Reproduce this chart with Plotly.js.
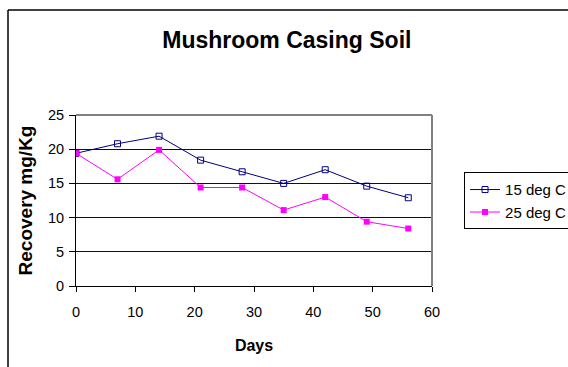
<!DOCTYPE html>
<html>
<head>
<meta charset="utf-8">
<script src="https://cdn.plot.ly/plotly-3.0.1.min.js"></script>
<style>html,body{margin:0;padding:0;background:#fff;}#chart{width:568px;height:367px;}</style>
</head>
<body>
<div id="chart"></div>
<script>
var days = [0, 7, 14, 21, 28, 35, 42, 49, 56];
var series15 = [19.4, 20.8, 21.9, 18.4, 16.7, 15.0, 17.0, 14.6, 12.9];
var series25 = [19.4, 15.6, 19.9, 14.4, 14.4, 11.1, 13.0, 9.4, 8.4];
var seriesNames = ["15 deg C", "25 deg C"];
var xTicks = [0, 10, 20, 30, 40, 50, 60];
var yTicks = [0, 5, 10, 15, 20, 25];

var traces = [
  {x: days, y: series15, name: seriesNames[0], mode: 'lines+markers', type: 'scatter',
   line: {color: '#000080', width: 1},
   marker: {symbol: 'square-open', size: 6, color: '#000080', line: {width: 1, color: '#000080'}}},
  {x: days, y: series25, name: seriesNames[1], mode: 'lines+markers', type: 'scatter',
   line: {color: '#FF00FF', width: 1},
   marker: {symbol: 'square', size: 6, color: '#FF00FF'}}
];

var layout = {
  width: 568, height: 367,
  margin: {l: 76, r: 136, t: 115, b: 81, pad: 0, autoexpand: false},
  paper_bgcolor: '#fff', plot_bgcolor: '#fff',
  font: {family: 'Arial, Liberation Sans, sans-serif', size: 14, color: '#000'},
  title: {text: '<b>Mushroom Casing Soil</b>', font: {size: 23, family: 'Arial, Liberation Sans, sans-serif'},
          x: 0.505, xanchor: 'center', y: 0.89, yanchor: 'middle'},
  xaxis: {range: [0, 60], tickvals: xTicks, ticks: 'outside', ticklen: 5, tickcolor: '#000',
          ticklabelstandoff: 8, tickfont: {size: 14.5},
          showline: true, linecolor: '#000', linewidth: 1, showgrid: false, zeroline: false,
          title: {text: '<b>Days</b>', font: {size: 16}, standoff: 20}, fixedrange: true},
  yaxis: {range: [0, 25], tickvals: yTicks, ticks: 'outside', ticklen: 6, tickcolor: '#000',
          ticklabelstandoff: 2, tickfont: {size: 14.5},
          showline: true, linecolor: '#000', linewidth: 1, showgrid: true, gridcolor: '#111', gridwidth: 1,
          zeroline: false, title: {text: '<b>Recovery mg/Kg</b>', font: {size: 19}, standoff: 10}, fixedrange: true},
  legend: {x: 1.09, y: 0.665, xanchor: 'left', yanchor: 'top', bordercolor: '#000', borderwidth: 1,
           bgcolor: '#fff', font: {size: 15}, tracegroupgap: 0, itemwidth: 30},
  showlegend: true,
  shapes: [
    {type: 'line', xref: 'paper', yref: 'paper', x0: 1, x1: 1, y0: 0, y1: 1, line: {color: '#808080', width: 2}},
    {type: 'line', xref: 'paper', yref: 'paper', x0: 0, x1: 1, y0: 1, y1: 1, line: {color: '#808080', width: 2}},
    {type: 'line', xref: 'paper', yref: 'paper', x0: -0.191, x1: -0.191, y0: -0.48, y1: 1.614, line: {color: '#000', width: 1.5}},
    {type: 'line', xref: 'paper', yref: 'paper', x0: -0.191, x1: 1.4, y0: 1.614, y1: 1.614, line: {color: '#000', width: 1.5}}
  ]
};

Plotly.newPlot('chart', traces, layout, {displayModeBar: false, staticPlot: true});
</script>
</body>
</html>
